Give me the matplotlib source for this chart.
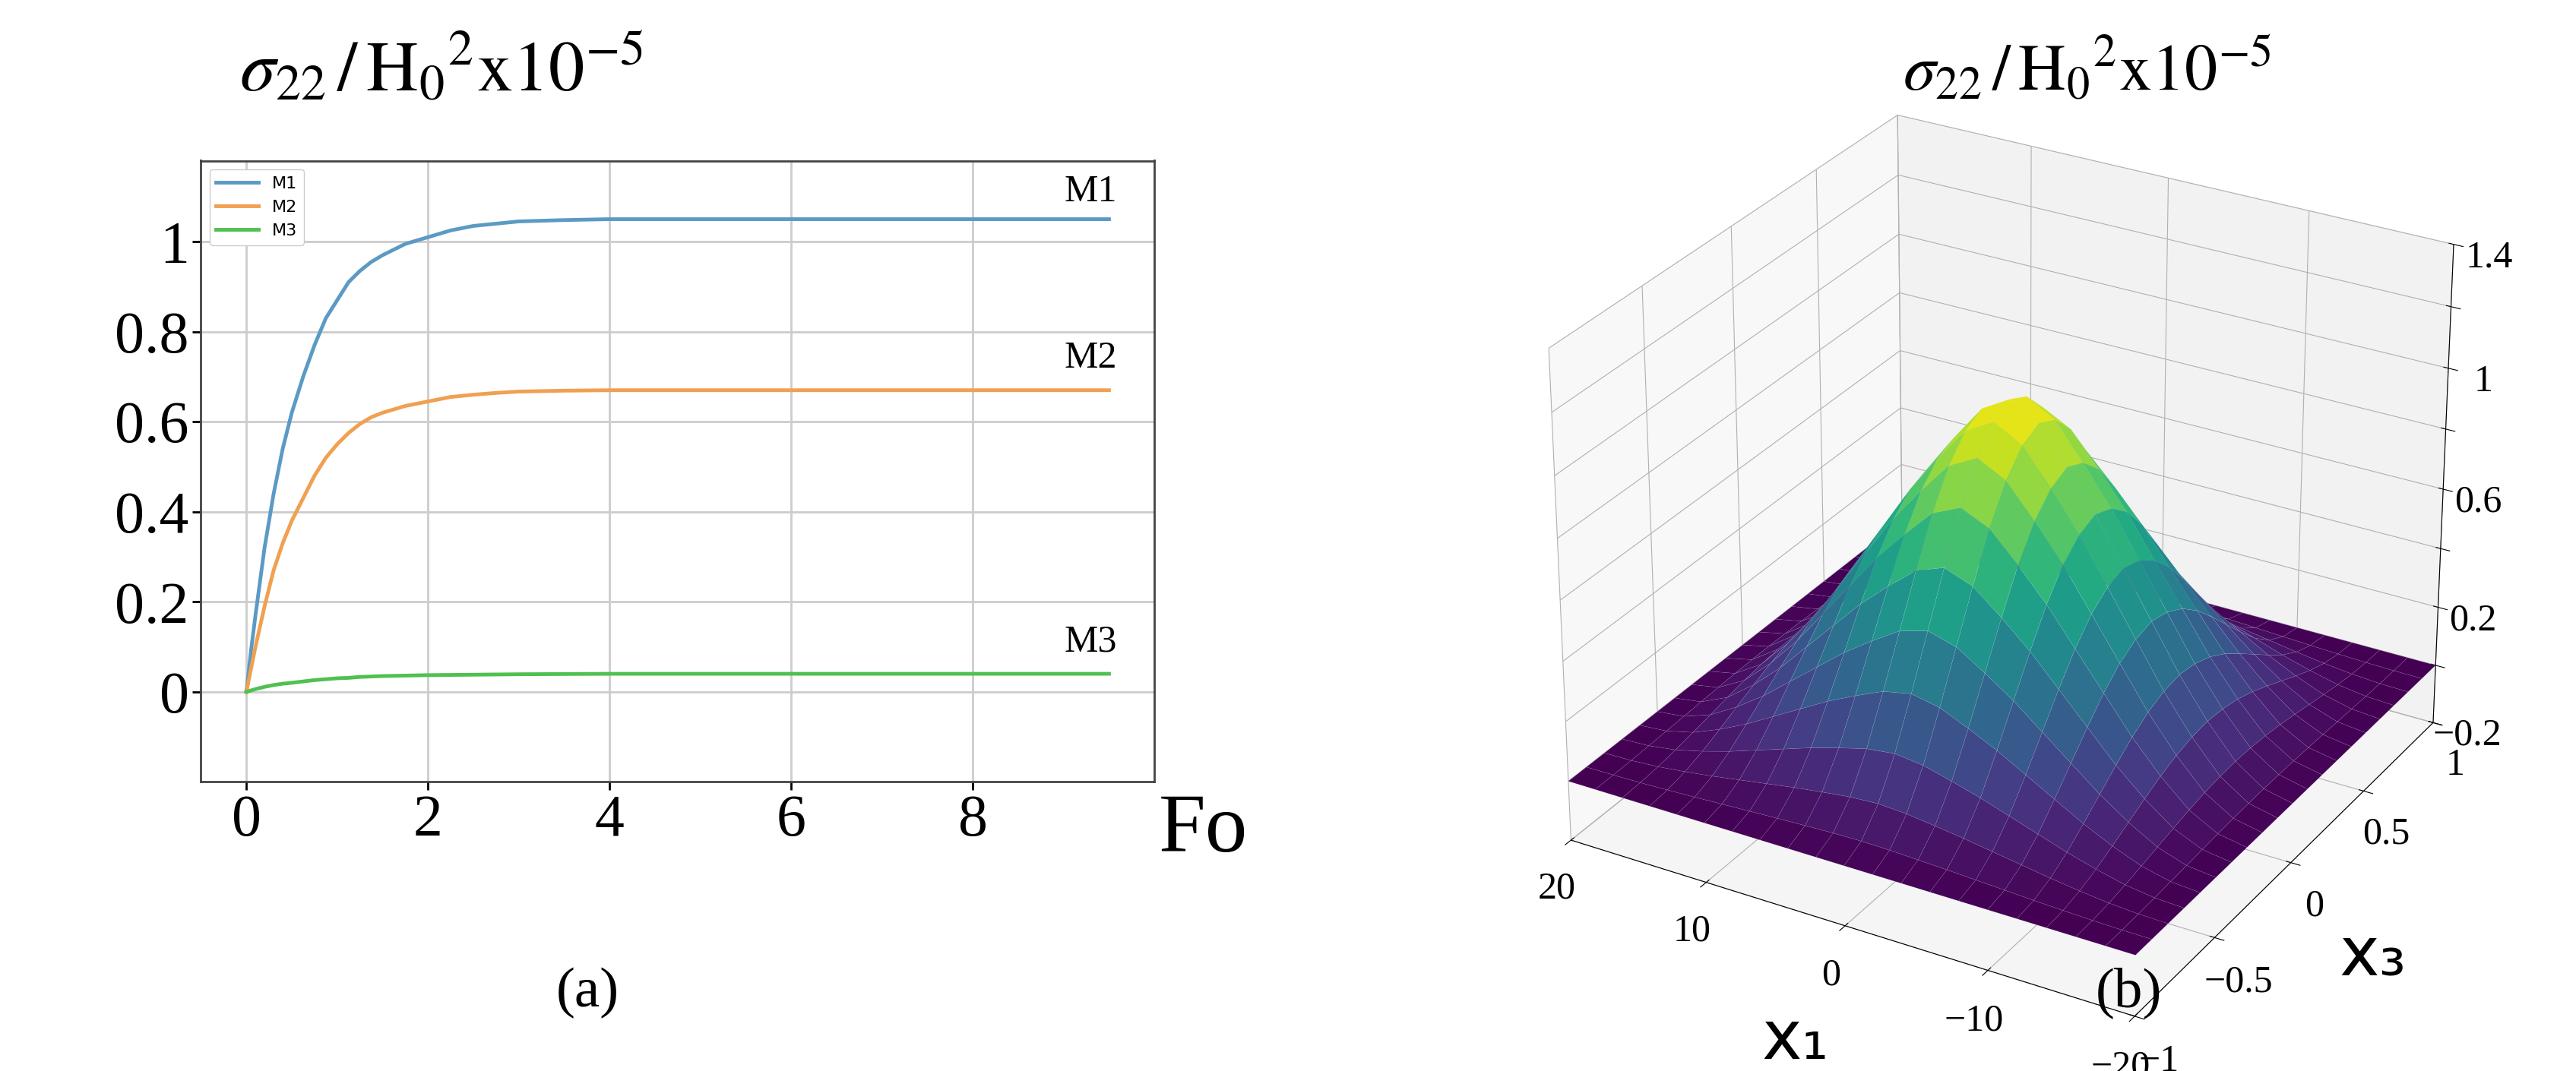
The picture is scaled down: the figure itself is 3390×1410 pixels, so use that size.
import numpy as np
import matplotlib
matplotlib.use("Agg")
import matplotlib.pyplot as plt
from mpl_toolkits.mplot3d import Axes3D  # noqa

plt.rcParams["mathtext.fontset"] = "stix"

# (a) stress vs Fourier number
fo = [0, 0.05, 0.1, 0.2, 0.3, 0.4, 0.5, 0.625, 0.75, 0.875, 1.0, 1.125, 1.25, 1.375, 1.5,
      1.75, 2.0, 2.25, 2.5, 2.75, 3.0, 3.5, 4.0, 5.0, 6.0, 8.0, 9.5]
m1 = [0, 0.09, 0.17, 0.32, 0.44, 0.54, 0.62, 0.70, 0.77, 0.83, 0.87, 0.91, 0.935, 0.955, 0.97,
      0.995, 1.01, 1.025, 1.035, 1.04, 1.045, 1.048, 1.05, 1.05, 1.05, 1.05, 1.05]
m2 = [0, 0.05, 0.10, 0.19, 0.27, 0.33, 0.38, 0.43, 0.48, 0.52, 0.55, 0.575, 0.595, 0.61, 0.62,
      0.635, 0.645, 0.655, 0.66, 0.664, 0.667, 0.669, 0.67, 0.67, 0.67, 0.67, 0.67]
m3 = [0, 0.003, 0.006, 0.011, 0.015, 0.018, 0.02, 0.023, 0.026, 0.028, 0.03, 0.031, 0.033, 0.034, 0.035,
      0.036, 0.037, 0.0375, 0.038, 0.0385, 0.039, 0.0395, 0.04, 0.04, 0.04, 0.04, 0.04]

# (b) surface profiles along x1 and x3 (normalised), peak value
x1 = [-20, -18, -16, -14, -12, -10, -8, -6, -4, -2, 0, 2, 4, 6, 8, 10, 12, 14, 16, 18, 20]
p1 = [0, 0.02, 0.08, 0.18, 0.3, 0.44, 0.58, 0.72, 0.84, 0.95, 1.0,
      0.95, 0.84, 0.72, 0.58, 0.44, 0.3, 0.18, 0.08, 0.02, 0]
x3 = [-1, -0.9, -0.8, -0.7, -0.6, -0.5, -0.4, -0.3, -0.2, -0.1, 0, 0.1, 0.2, 0.3, 0.4, 0.5, 0.6, 0.7, 0.8, 0.9, 1]
p3 = [0, 0.03, 0.1, 0.21, 0.35, 0.5, 0.65, 0.79, 0.9, 0.97, 1.0,
      0.97, 0.9, 0.79, 0.65, 0.5, 0.35, 0.21, 0.1, 0.03, 0]
peak = 1.07

title = r"$\sigma_{22}\,/\,\mathrm{H_0{}^2x10^{-5}}$"

fig = plt.figure(figsize=(33.91, 14.10), dpi=100)

ax = fig.add_axes([0.078, 0.27, 0.37, 0.58])
ax.plot(fo, m1, color="#5b9ac4", lw=3.5, label="M1")
ax.plot(fo, m2, color="#f0a050", lw=3.5, label="M2")
ax.plot(fo, m3, color="#50c050", lw=3.5, label="M3")
ax.set_xlim(-0.5, 10.0)
ax.set_ylim(-0.2, 1.18)
ax.set_xticks([0, 2, 4, 6, 8])
ax.set_yticks([0, 0.2, 0.4, 0.6, 0.8, 1])
ax.set_yticklabels(["0", "0.2", "0.4", "0.6", "0.8", "1"])
ax.grid(True, color="#cccccc", lw=2)
for s in ax.spines.values():
    s.set_color("#444444")
    s.set_linewidth(2)
ax.tick_params(labelsize=56, width=2, length=8)
for lab in ax.get_xticklabels() + ax.get_yticklabels():
    lab.set_fontfamily("Liberation Serif")
ax.legend(loc="upper left", fontsize=16, handlelength=2.5, framealpha=1)
for name, y in [("M1", 1.09), ("M2", 0.72), ("M3", 0.09)]:
    ax.text(9.3, y, name, fontsize=36, fontfamily="Liberation Serif", ha="center")
ax.text(10.05, -0.31, "Fo", fontsize=80, fontfamily="Liberation Serif", va="center")
fig.text(0.093, 0.935, title, fontsize=68, va="center")
fig.text(0.228, 0.06, "(a)", fontsize=54, fontfamily="Liberation Serif", ha="center")

# (b) surface
ax3 = fig.add_axes([0.55, 0.02, 0.45, 0.92], projection="3d")
X, Y = np.meshgrid(x1, x3)
Z = peak * np.outer(p3, p1)
ax3.plot_surface(X, Y, Z, cmap="viridis", rstride=1, cstride=1, linewidth=0.4,
                 edgecolor=(1, 1, 1, 0.12), antialiased=True, vmin=0, vmax=peak)
ax3.view_init(elev=28, azim=120)
ax3.set_ylim(1, -1)
ax3.set_xlim(-20, 20)
ax3.set_zlim(-0.2, 1.4)
ax3.set_xticks([-20, -10, 0, 10, 20])
ax3.set_yticks([-1, -0.5, 0, 0.5, 1])
ax3.set_yticklabels(["\u22121", "\u22120.5", "0", "0.5", "1"])
ax3.set_xticklabels(["\u221220", "\u221210", "0", "10", "20"])
ax3.set_zticks([-0.2, 0, 0.2, 0.4, 0.6, 0.8, 1.0, 1.2, 1.4])
ax3.set_zticklabels(["\u22120.2", "", "0.2", "", "0.6", "", "1", "", "1.4"])
ax3.tick_params(labelsize=36, pad=12)
for lab in ax3.get_xticklabels() + ax3.get_yticklabels() + ax3.get_zticklabels():
    lab.set_fontfamily("Liberation Serif")
ax3.yaxis.set_rotate_label(False)
ax3.xaxis.set_rotate_label(False)
ax3.set_xlabel("x\u2081", fontsize=64, labelpad=50, fontfamily="DejaVu Sans")
ax3.set_ylabel("x\u2083", fontsize=64, labelpad=50, fontfamily="DejaVu Sans")
ax3.set_box_aspect((1, 1, 0.85), zoom=1.05)
fig.text(0.81, 0.935, title, fontsize=62, va="center", ha="center")
fig.text(0.826, 0.06, "(b)", fontsize=54, fontfamily="Liberation Serif", ha="center")

fig.savefig("out.png", dpi=100, facecolor="white")
